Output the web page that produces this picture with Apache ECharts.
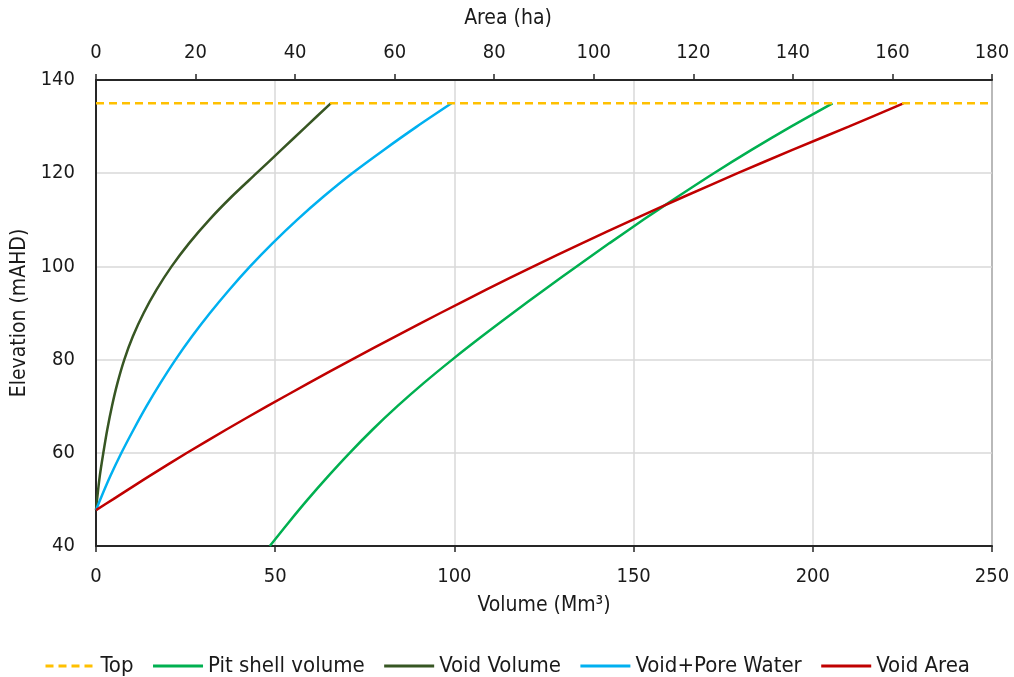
<!DOCTYPE html>
<html>
<head>
<meta charset="utf-8">
<script src="https://cdn.jsdelivr.net/npm/echarts@6/dist/echarts.min.js"></script>
<style>
  html, body { margin: 0; padding: 0; background: #fff; }
  #chart { width: 1014px; height: 677px; }
</style>
</head>
<body>
<div id="chart"></div>
<script>
// Elevation (mAHD) vs. volume (Mm³, bottom axis) and area (ha, top axis)
const topElevation = 135;

const pitElevation = [40, 45, 50, 55, 60, 65, 70, 75, 80, 85, 90, 95, 100, 105, 110, 115, 120, 125, 130, 135];
const pitShellVolume = [48.5, 53.7, 59.1, 64.8, 70.8, 77.2, 84.1, 91.5, 99.4, 107.7, 116.3, 125.1, 134.1, 143.3, 152.7, 162.4, 172.4, 182.9, 193.9, 205.5];

const voidElevation = [47.7, 50, 55, 60, 65, 70, 75, 80, 85, 90, 95, 100, 105, 110, 115, 120, 125, 130, 135];
const voidVolume = [0, 0.3, 1.05, 2.05, 3.15, 4.45, 6.0, 7.9, 10.3, 13.3, 16.9, 21.1, 26.0, 31.6, 37.9, 44.8, 51.7, 58.6, 65.5];
const voidPoreWater = [0, 1.2, 4.0, 7.1, 10.5, 14.1, 18.0, 22.2, 26.8, 31.8, 37.2, 43.0, 49.3, 56.1, 63.5, 71.5, 80.3, 89.5, 99.2];

const areaElevation = [47.7, 50, 55, 60, 65, 70, 75, 80, 85, 90, 95, 100, 105, 110, 115, 120, 125, 130, 135];
const voidArea = [0, 3.4, 10.7, 18.3, 26.2, 34.4, 42.8, 51.4, 60.2, 69.2, 78.4, 87.9, 97.7, 107.8, 118.2, 128.9, 139.9, 151.2, 162.2];

const volumeTicks = { min: 0, max: 250, interval: 50 };
const areaTicks = { min: 0, max: 180, interval: 20 };
const elevationTicks = { min: 40, max: 140, interval: 20 };

const pairs = (xs, ys) => xs.map((x, i) => [x, ys[i]]);

const FONT = 'DejaVu Sans Condensed';
const TEXT = '#1a1a1a';
const AXIS = '#262626';
const GRIDLINE = '#d9d9d9';

const chart = echarts.init(document.getElementById('chart'));
chart.setOption({
  animation: false,
  textStyle: { fontFamily: FONT, color: TEXT },
  grid: {
    left: 96, right: 22, top: 80, bottom: 131,
    outerBoundsMode: 'none', containLabel: false,
    show: true, borderColor: AXIS, borderWidth: 1.5
  },
  xAxis: [
    {
      type: 'value', position: 'bottom',
      min: volumeTicks.min, max: volumeTicks.max, interval: volumeTicks.interval,
      name: 'Volume (Mm³)', nameLocation: 'middle', nameGap: 49,
      nameTextStyle: { fontFamily: FONT, fontSize: 21, color: TEXT },
      axisLine: { show: true, lineStyle: { color: AXIS, width: 2 } },
      axisTick: { show: true, inside: false, length: 6, lineStyle: { color: AXIS, width: 1.5 } },
      axisLabel: { fontFamily: FONT, fontSize: 20, color: TEXT, margin: 21 },
      splitLine: { show: true, lineStyle: { color: GRIDLINE, width: 1.5 } }
    },
    {
      type: 'value', position: 'top',
      min: areaTicks.min, max: areaTicks.max, interval: areaTicks.interval,
      name: 'Area (ha)', nameLocation: 'middle', nameGap: 51,
      nameTextStyle: { fontFamily: FONT, fontSize: 21, color: TEXT, padding: [0, 72, 0, 0] },
      axisLine: { show: true, lineStyle: { color: AXIS, width: 2 } },
      axisTick: { show: true, inside: false, length: 6, lineStyle: { color: AXIS, width: 1.5 } },
      axisLabel: { fontFamily: FONT, fontSize: 20, color: TEXT, margin: 17 },
      splitLine: { show: false }
    }
  ],
  yAxis: {
    type: 'value',
    min: elevationTicks.min, max: elevationTicks.max, interval: elevationTicks.interval,
    name: 'Elevation (mAHD)', nameLocation: 'middle', nameGap: 65,
    nameTextStyle: { fontFamily: FONT, fontSize: 21, color: TEXT },
    axisLine: { show: true, lineStyle: { color: AXIS, width: 2 } },
    axisTick: { show: false },
    axisLabel: { fontFamily: FONT, fontSize: 20, color: TEXT, margin: 21 },
    splitLine: { show: true, lineStyle: { color: GRIDLINE, width: 1.5 } }
  },
  legend: {
    top: 650, left: 'center',
    itemWidth: 50, itemHeight: 14, itemGap: 18,
    itemStyle: { opacity: 0 },
    lineStyle: { width: 3 },
    textStyle: { fontFamily: FONT, fontSize: 22, color: TEXT },
    data: ['Top', 'Pit shell volume', 'Void Volume', 'Void+Pore Water', 'Void Area']
  },
  series: [
    {
      name: 'Top', type: 'line', xAxisIndex: 0, symbol: 'none',
      data: [[volumeTicks.min, topElevation], [volumeTicks.max, topElevation]],
      lineStyle: { color: '#FFC000', width: 2.5, type: [8, 5] },
      itemStyle: { color: '#FFC000' }, z: 5
    },
    {
      name: 'Pit shell volume', type: 'line', xAxisIndex: 0, symbol: 'none', smooth: 0.3,
      data: pairs(pitShellVolume, pitElevation),
      lineStyle: { color: '#00B050', width: 2.5 }, itemStyle: { color: '#00B050' }
    },
    {
      name: 'Void Volume', type: 'line', xAxisIndex: 0, symbol: 'none', smooth: 0.3,
      data: pairs(voidVolume, voidElevation),
      lineStyle: { color: '#375623', width: 2.5 }, itemStyle: { color: '#375623' }
    },
    {
      name: 'Void+Pore Water', type: 'line', xAxisIndex: 0, symbol: 'none', smooth: 0.3,
      data: pairs(voidPoreWater, voidElevation),
      lineStyle: { color: '#00B0F0', width: 2.5 }, itemStyle: { color: '#00B0F0' }
    },
    {
      name: 'Void Area', type: 'line', xAxisIndex: 1, symbol: 'none', smooth: 0.3,
      data: pairs(voidArea, areaElevation),
      lineStyle: { color: '#C00000', width: 2.5 }, itemStyle: { color: '#C00000' }
    }
  ]
});
</script>
</body>
</html>
